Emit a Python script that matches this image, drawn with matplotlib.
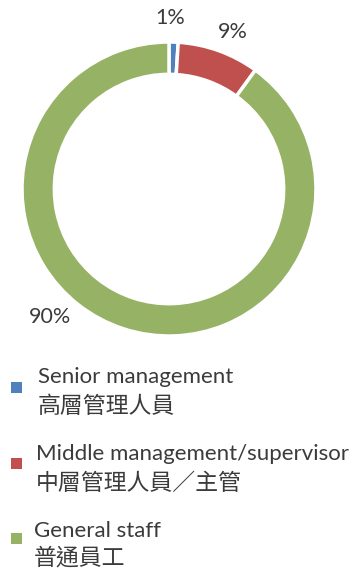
import numpy as np
import matplotlib
matplotlib.use("Agg")
import matplotlib.pyplot as plt

categories_en = ["Senior management", "Middle management/supervisor", "General staff"]
categories_zh = ["高層管理人員", "中層管理人員／主管", "普通員工"]
values = [1, 9, 90]
pct_labels = ["1%", "9%", "90%"]
colors = ["#4F81BD", "#C0504D", "#96B365"]

W, H = 355, 570
fig = plt.figure(figsize=(W / 100, H / 100), dpi=100)
fig.patch.set_facecolor("white")

cx, cy, R = 169, 189, 147
ax = fig.add_axes([(cx - R) / W, (H - cy - R) / H, 2 * R / W, 2 * R / H])
ax.pie(values, colors=colors, startangle=90, counterclock=False, radius=1.0,
       wedgeprops=dict(width=0.22, edgecolor="white", linewidth=2.5))
ax.set_xlim(-1, 1)
ax.set_ylim(-1, 1)
ax.set_aspect("equal")
ax.axis("off")

fam = ["Lato", "Noto Sans CJK TC", "DejaVu Sans"]
txtc = "#3b3b3b"
# percent label placements (angle clockwise from top in degrees, distance in radii)
label_pos = [(0.5, 1.16), (22, 1.15), (223, 1.19)]
for lab, (ang, d) in zip(pct_labels, label_pos):
    a = np.deg2rad(ang)
    ax.text(d * np.sin(a), d * np.cos(a), lab, ha="center", va="center",
            fontsize=15.5, color=txtc, family=fam, clip_on=False)

# legend
sq_y = [387, 463, 538]
en_y = [383, 460, 537]
zh_y = [413, 490, 565]
txt_x = [38, 36, 34]
sq = 11
for i in range(len(values)):
    fig.patches.append(plt.Rectangle((11 / W, (H - sq_y[i] - sq / 2) / H), sq / W, sq / H,
                                     transform=fig.transFigure, facecolor=colors[i],
                                     edgecolor="none"))
    fig.text(txt_x[i] / W, (H - en_y[i]) / H, categories_en[i], ha="left", va="baseline",
             fontsize=16, color=txtc, family=fam)
    fig.text(txt_x[i] / W, (H - zh_y[i]) / H, categories_zh[i], ha="left", va="baseline",
             fontsize=16.5, color=txtc, family=["Noto Sans CJK TC", "DejaVu Sans"])

fig.savefig("out.png", dpi=100, facecolor="white")
